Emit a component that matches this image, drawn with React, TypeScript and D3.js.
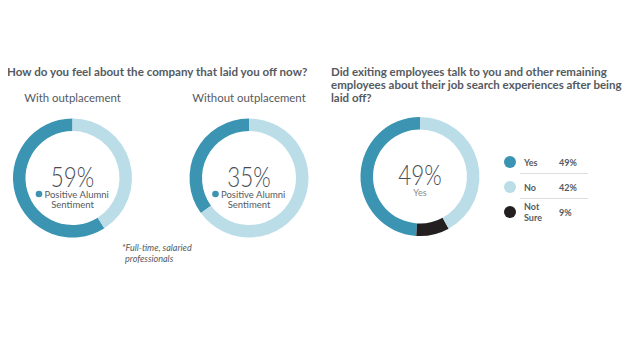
import React from "react";
import * as d3 from "d3";

const leftTitle = "How do you feel about the company that laid you off now?";
const rightTitleLines = [
  "Did exiting employees talk to you and other remaining",
  "employees about their job search experiences after being",
  "laid off?",
];
const donutLabels = ["With outplacement", "Without outplacement"];
const positiveShares = [59, 35];
const answerCategories = ["Yes", "No", "Not Sure"];
const answerValues = [49, 42, 9];
const pieOrder = ["Yes", "Not Sure", "No"];

const DARK = "#3a94b2";
const LIGHT = "#badde7";
const BLACK = "#231f20";
const TEXT = "#555a60";
const FONT = "Lato, 'Open Sans', sans-serif";

const colorOf: Record<string, string> = { Yes: DARK, No: LIGHT, "Not Sure": BLACK };

function Pct({ value, y }: { value: number; y: number }) {
  return (
    <g transform={`translate(0,${y}) scale(0.8,1)`}>
      <text
        textAnchor="middle"
        fontFamily={FONT}
        fontWeight={300}
        fontSize={28}
        fill="#484d53"
      >
        {value}%
      </text>
    </g>
  );
}

export default function App() {
  const W = 630;
  const H = 358;
  const outer = 59.5;
  const inner = 47;
  const arc = d3.arc<d3.PieArcDatum<any>>().innerRadius(inner).outerRadius(outer);
  const pie = d3
    .pie<any>()
    .sort(null)
    .value((d: any) => d.v)
    .startAngle(0)
    .endAngle(-2 * Math.PI);

  const x = d3.scalePoint<string>().domain(donutLabels).range([72.5, 249]);
  const cy = 178;

  const donuts = donutLabels.map((lab, i) => {
    const p = positiveShares[i];
    const arcs = pie([
      { k: "pos", v: p },
      { k: "rest", v: 100 - p },
    ]);
    return { lab, p, arcs, cx: x(lab)! };
  });

  const arcs3 = pie(
    pieOrder.map((k) => ({ k, v: answerValues[answerCategories.indexOf(k)] }))
  );
  const c3x = 420;
  const c3y = 176.5;

  const legendY = d3.scalePoint<string>().domain(answerCategories).range([162, 212]);

  return (
    <div style={{ margin: -8 }}>
      <svg width={W} height={H} style={{ display: "block", background: "#fff" }}>
        <text x={7} y={76} fontFamily={FONT} fontWeight={700} fontSize={11.6} fill={TEXT}>
          {leftTitle}
        </text>
        {donuts.map((d) => (
          <g key={d.lab}>
            <text
              x={d.cx}
              y={102}
              textAnchor="middle"
              fontFamily={FONT}
              fontSize={11.4}
              fill={TEXT}
            >
              {d.lab}
            </text>
            <g transform={`translate(${d.cx},${cy})`}>
              {d.arcs.map((a: any) => (
                <path key={a.data.k} d={arc(a)!} fill={a.data.k === "pos" ? DARK : LIGHT} />
              ))}
              <Pct value={d.p} y={8.5} />
              <circle cx={-33.5} cy={16} r={3.3} fill={DARK} />
              <text x={-28} y={19.5} fontFamily={FONT} fontSize={9.5} fill={TEXT}>
                Positive Alumni
              </text>
              <text x={0} y={30} textAnchor="middle" fontFamily={FONT} fontSize={9.5} fill={TEXT}>
                Sentiment
              </text>
            </g>
          </g>
        ))}
        <text fontFamily={FONT} fontStyle="italic" fontSize={9} fill={TEXT}>
          <tspan x={122} y={251}>*Full-time, salaried</tspan>
          <tspan x={125} y={262}>professionals</tspan>
        </text>

        <text fontFamily={FONT} fontWeight={700} fontSize={11.5} fill={TEXT}>
          {rightTitleLines.map((l, i) => (
            <tspan key={i} x={331} y={76 + i * 13}>
              {l}
            </tspan>
          ))}
        </text>
        <g transform={`translate(${c3x},${c3y})`}>
          {arcs3.map((a: any) => (
            <path key={a.data.k} d={arc(a)!} fill={colorOf[a.data.k]} />
          ))}
          <Pct value={answerValues[0]} y={8.5} />
          <text y={19} textAnchor="middle" fontFamily={FONT} fontSize={9} fill="#888">
            {answerCategories[0]}
          </text>
        </g>
        {answerCategories.map((c, i) => {
          const y = legendY(c)!;
          const lines = c === "Not Sure" ? ["Not", "Sure"] : [c];
          return (
            <g key={c}>
              <circle cx={510} cy={y} r={6} fill={colorOf[c]} />
              <text fontFamily={FONT} fontWeight={700} fontSize={9} fill={TEXT}>
                {lines.map((l, j) => (
                  <tspan key={j} x={524} y={y + 3.5 + (j - (lines.length - 1) / 2) * 11}>
                    {l}
                  </tspan>
                ))}
              </text>
              <text x={559} y={y + 3.5} fontFamily={FONT} fontWeight={700} fontSize={9} fill={TEXT}>
                {answerValues[i]}%
              </text>
              {i < answerCategories.length - 1 && (
                <line
                  x1={520}
                  x2={588}
                  y1={y + 11.5}
                  y2={y + 11.5}
                  stroke="#d5d5d5"
                  strokeWidth={0.8}
                />
              )}
            </g>
          );
        })}
      </svg>
    </div>
  );
}
